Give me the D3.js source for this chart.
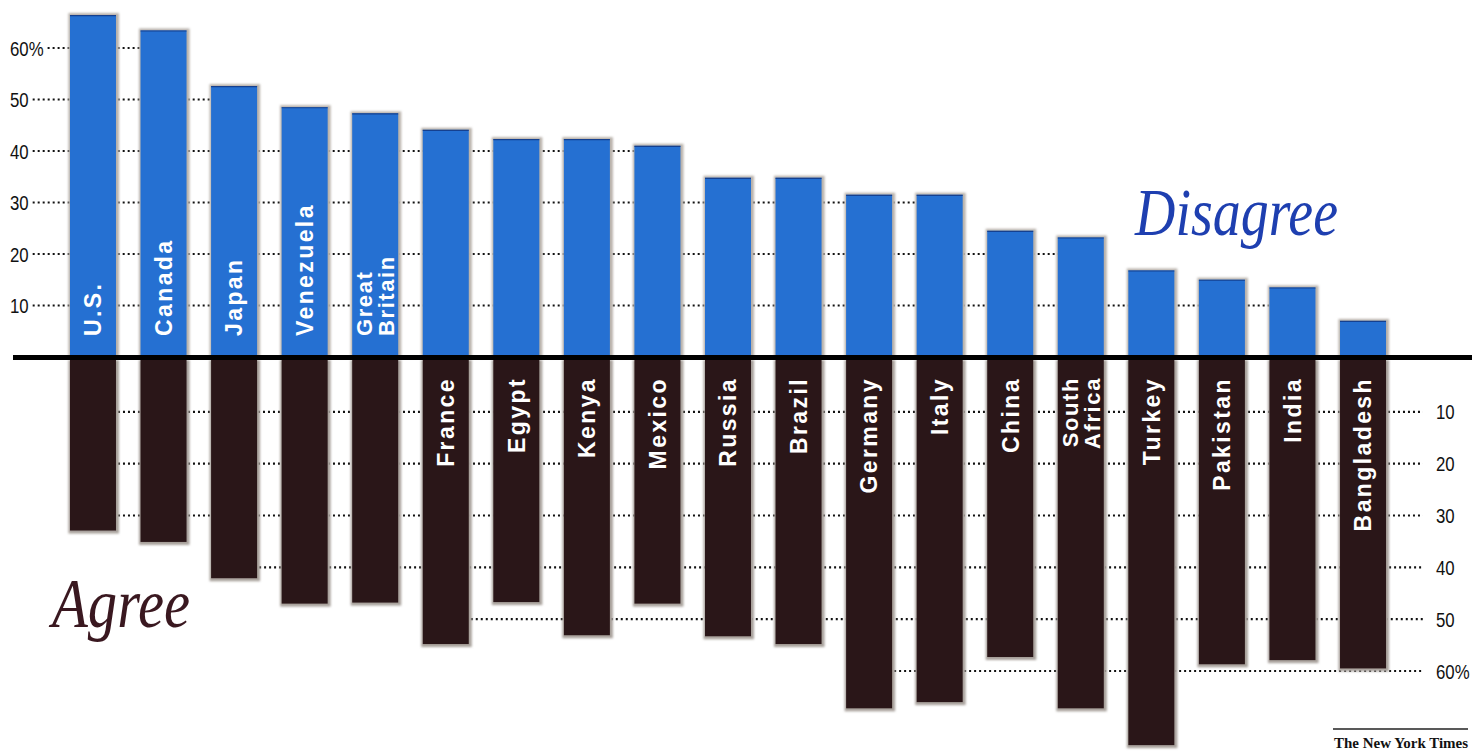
<!DOCTYPE html>
<html>
<head>
<meta charset="utf-8">
<script src="https://cdn.jsdelivr.net/npm/d3@7"></script>
<style>
  html, body { margin: 0; padding: 0; background: #fff; }
  svg { display: block; }
</style>
</head>
<body>
<svg id="chart" width="1476" height="751"></svg>
<script>
// ---- data ----
const countries = ["U.S.","Canada","Japan","Venezuela","Great Britain","France","Egypt","Kenya","Mexico","Russia","Brazil","Germany","Italy","China","South Africa","Turkey","Pakistan","India","Bangladesh"];
const disagree = [66.4, 63.4, 52.6, 48.5, 47.3, 44.1, 42.3, 42.3, 41, 34.8, 34.8, 31.5, 31.5, 24.5, 23.2, 16.8, 15, 13.5, 7];
const agree    = [32.9, 35.1, 42.1, 47, 46.8, 54.8, 46.7, 53.1, 47, 53.3, 54.8, 67.2, 66, 57.3, 67.2, 74.3, 58.7, 57.9, 59.5];
const labelSide = ["top","top","top","top","top","bottom","bottom","bottom","bottom","bottom","bottom","bottom","bottom","bottom","bottom","bottom","bottom","bottom","bottom"];
const upperTicks = [10, 20, 30, 40, 50, 60];
const lowerTicks = [10, 20, 30, 40, 50, 60];
const upperTickLabels = ["10", "20", "30", "40", "50", "60%"];
const lowerTickLabels = ["10", "20", "30", "40", "50", "60%"];

// ---- layout ----
const svg = d3.select("#chart");
const BLUE = "#2570d2", DARK = "#2a1618";

const x = d3.scaleBand().domain(countries).range([57.7, 1398.3]).paddingInner(0.348).paddingOuter(0.174);
const yUp = d3.scaleLinear().domain([0, 60]).range([357, 48]);
const yDn = d3.scaleLinear().domain([0, 60]).range([360, 671]);
const bw = x.bandwidth();

const defs = svg.append("defs");
defs.append("filter").attr("id", "fuzz").attr("x", "-20%").attr("y", "-5%").attr("width", "140%").attr("height", "110%")
  .append("feGaussianBlur").attr("stdDeviation", 1.3);

const numFont = "'Liberation Sans', Arial, Helvetica, sans-serif";
const NARROW = 0.8;

function tickText(g, tx, ty, label) {
  const t = g.append("text")
    .attr("transform", `translate(${tx},${ty}) scale(${NARROW},1)`)
    .attr("dy", "0.36em")
    .attr("font-family", numFont).attr("font-size", 21).attr("fill", "#111").text(label);
  return t.node().getComputedTextLength() * NARROW;
}

// upper gridlines + labels
const gUp = svg.append("g");
upperTicks.forEach((t, i) => {
  const ty = yUp(t);
  const w = tickText(gUp, 10, ty, upperTickLabels[i]);
  let last = -1;
  disagree.forEach((v, j) => { if (v > t) last = j; });
  const xEnd = x(countries[last]) + bw / 2;
  gUp.append("line").attr("x1", 10 + w + 4).attr("x2", xEnd).attr("y1", ty).attr("y2", ty)
    .attr("stroke", "#111").attr("stroke-width", 2.2).attr("stroke-dasharray", "2,3");
});

// lower gridlines + labels
const gDn = svg.append("g");
lowerTicks.forEach((t, i) => {
  const ty = yDn(t);
  const first = agree.findIndex(v => v > t);
  const xStart = x(countries[first]) + bw / 2;
  gDn.append("line").attr("x1", xStart).attr("x2", 1423).attr("y1", ty).attr("y2", ty)
    .attr("stroke", "#111").attr("stroke-width", 2.2).attr("stroke-dasharray", "2,3");
  tickText(gDn, 1436, ty, lowerTickLabels[i]);
});

// upper (disagree) bars
const up = svg.append("g");
up.selectAll("rect.sh").data(countries).join("rect").attr("class", "sh")
  .attr("x", d => x(d) - 1.5).attr("width", bw + 4.5)
  .attr("y", (d, i) => yUp(disagree[i]) - 2).attr("height", (d, i) => yUp(0) - yUp(disagree[i]) + 2)
  .attr("fill", "#b9b2ab").attr("filter", "url(#fuzz)");
up.selectAll("rect.bar").data(countries).join("rect").attr("class", "bar")
  .attr("x", d => x(d)).attr("width", bw)
  .attr("y", (d, i) => yUp(disagree[i])).attr("height", (d, i) => yUp(0) - yUp(disagree[i]))
  .attr("fill", BLUE);
up.selectAll("line.topedge").data(countries).join("line").attr("class", "topedge")
  .attr("x1", d => x(d)).attr("x2", d => x(d) + bw)
  .attr("y1", (d, i) => yUp(disagree[i]) + 0.5).attr("y2", (d, i) => yUp(disagree[i]) + 0.5)
  .attr("stroke", "#15408f").attr("stroke-width", 1.2);

// lower (agree) bars
const dn = svg.append("g");
dn.selectAll("rect.sh").data(countries).join("rect").attr("class", "sh")
  .attr("x", d => x(d) - 1.5).attr("width", bw + 4.5)
  .attr("y", yDn(0)).attr("height", (d, i) => yDn(agree[i]) - yDn(0) + 3)
  .attr("fill", "#a8a19b").attr("filter", "url(#fuzz)");
dn.selectAll("rect.bar").data(countries).join("rect").attr("class", "bar")
  .attr("x", d => x(d)).attr("width", bw)
  .attr("y", yDn(0)).attr("height", (d, i) => yDn(agree[i]) - yDn(0))
  .attr("fill", DARK);

// baseline
svg.append("line").attr("x1", 13).attr("x2", 1472).attr("y1", 357.5).attr("y2", 357.5)
  .attr("stroke", "#000").attr("stroke-width", 5);

// country labels (rotated, white)
const lab = svg.append("g").attr("font-family", "'Liberation Sans', Arial, Helvetica, sans-serif")
  .attr("font-weight", "bold").attr("fill", "#fff");
countries.forEach((c, i) => {
  const lines = c.split(" ");
  const multi = lines.length > 1;
  const fs = multi ? 22 : 23;
  const cx = x(c) + bw / 2;
  const top = labelSide[i] === "top";
  const ly = top ? 336 : 377;
  lines.forEach((ln, k) => {
    const off = multi ? (k === 0 ? -11 : 11) : 0;
    lab.append("text")
      .attr("transform", `translate(${cx + off},${ly}) rotate(-90)`)
      .attr("text-anchor", top ? "start" : "end")
      .attr("dy", "0.36em")
      .attr("font-size", fs)
      .attr("letter-spacing", multi ? 1.6 : 2.4)
      .text(ln);
  });
});

// titles
svg.append("text").attr("x", 1135).attr("y", 235)
  .attr("font-family", "'Liberation Serif', 'Times New Roman', serif").attr("font-style", "italic")
  .attr("font-size", 68).attr("fill", "#1e3fb0")
  .attr("textLength", 203).attr("lengthAdjust", "spacingAndGlyphs").text("Disagree");
svg.append("text").attr("x", 52).attr("y", 627)
  .attr("font-family", "'Liberation Serif', 'Times New Roman', serif").attr("font-style", "italic")
  .attr("font-size", 70).attr("fill", "#3a1820")
  .attr("textLength", 138).attr("lengthAdjust", "spacingAndGlyphs").text("Agree");

// credit
svg.append("line").attr("x1", 1333).attr("x2", 1468).attr("y1", 729).attr("y2", 729)
  .attr("stroke", "#222").attr("stroke-width", 1.5);
svg.append("text").attr("x", 1334).attr("y", 748)
  .attr("font-family", "'Liberation Serif', 'Times New Roman', serif").attr("font-weight", "bold")
  .attr("font-size", 14).attr("fill", "#111")
  .attr("textLength", 134).attr("lengthAdjust", "spacingAndGlyphs").text("The New York Times");
</script>
</body>
</html>
